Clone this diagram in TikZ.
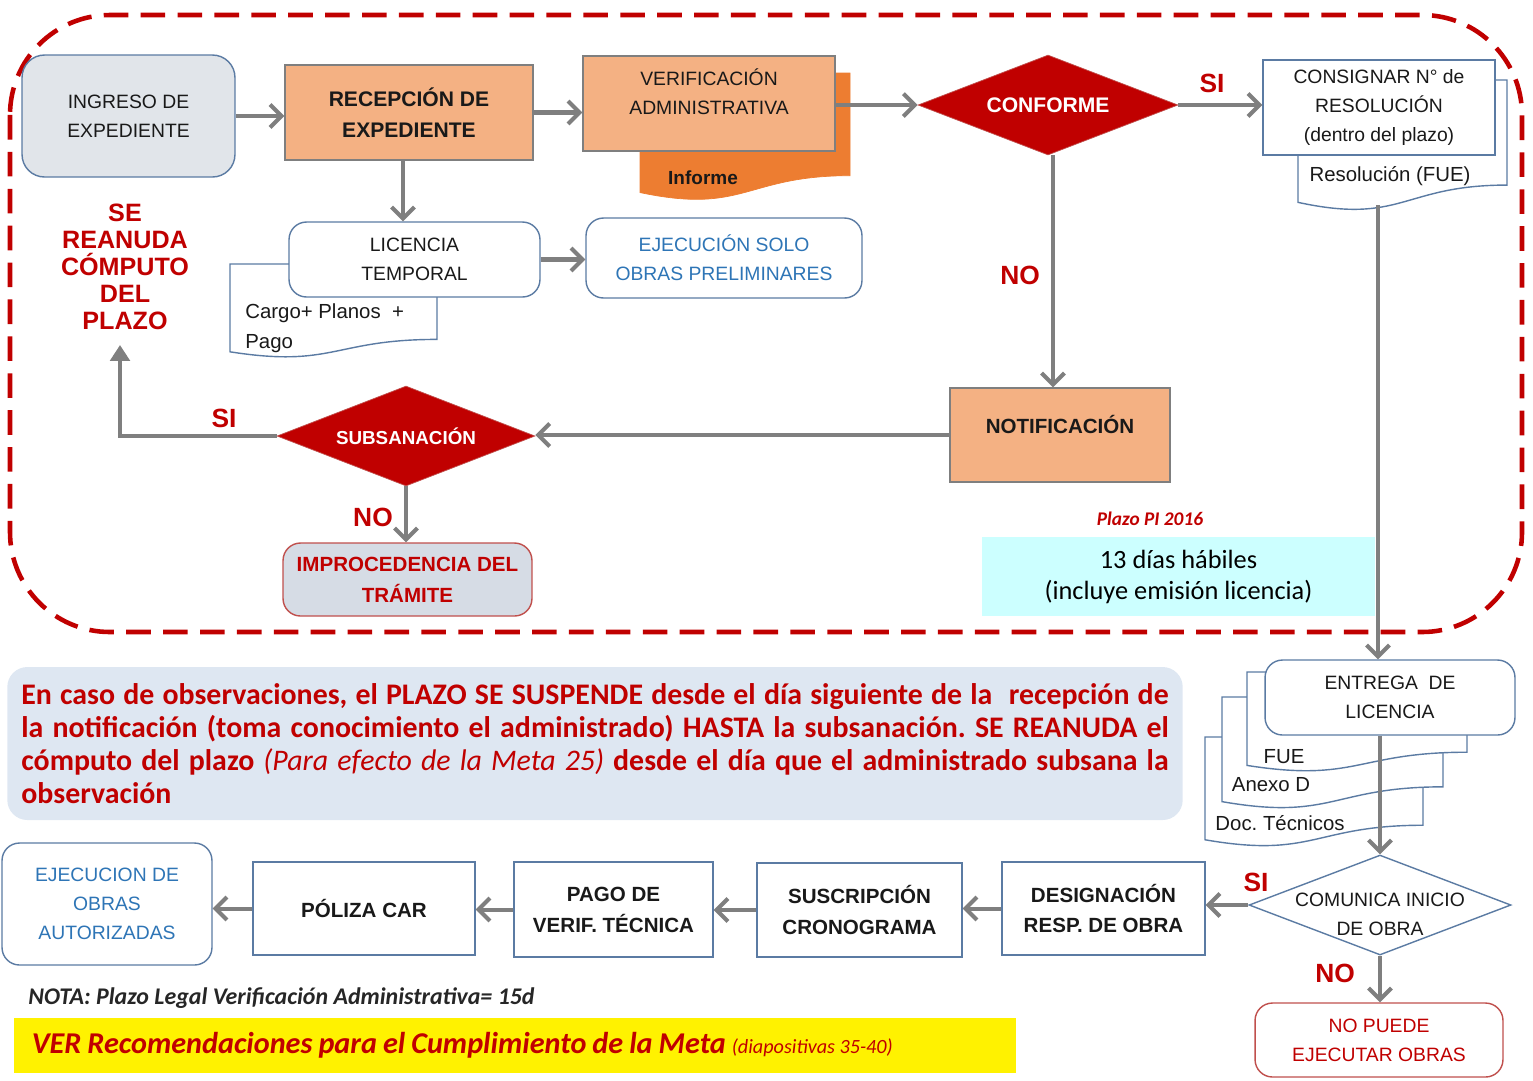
\documentclass[tikz,border=0pt]{standalone}
\usepackage{fontspec}
\setmainfont{Liberation Sans}
\newfontfamily\calfont{Carlito}
\usetikzlibrary{positioning}
\usetikzlibrary{shapes.geometric}
\usetikzlibrary{arrows.meta}
\frenchspacing

\definecolor{peach}{HTML}{F4B183}
\definecolor{dorange}{HTML}{ED7D31}
\definecolor{dred}{HTML}{C00000}
\definecolor{redb}{HTML}{C0504D}
\definecolor{agray}{HTML}{7F7F7F}
\definecolor{bgray}{HTML}{5B7BA3}
\definecolor{lgray}{HTML}{E1E5EA}
\definecolor{lgblue}{HTML}{D6DCE5}
\definecolor{lblue}{HTML}{DEE7F2}
\definecolor{lcyan}{HTML}{CCFFFF}
\definecolor{tblue}{HTML}{2E75B6}

% document symbol with a wavy lower edge
\newcommand{\docshape}[5]{%
  \draw[#5] (#1,#2) -- (#3,#2) -- (#3,{#2+0.802*(#4-#2)})
    .. controls ({(#1+#3)/2},{#2+0.802*(#4-#2)}) and ({(#1+#3)/2},{#2+1.107*(#4-#2)})
    .. (#1,{#2+0.934*(#4-#2)}) -- cycle;}

\begin{document}
\begin{tikzpicture}[x=0.02cm, y=-0.02cm,
  arr/.style={draw=agray, line width=2.3pt, -{Straight Barb[length=6.5pt,width=13pt]}},
  txt/.style={font=\fontsize{11}{16.4}\selectfont, align=center, text=black!90},
  txtb/.style={font=\bfseries\fontsize{11.7}{17.6}\selectfont, align=center, text=black!90},
  peachbox/.style={rectangle, draw=agray, line width=0.8pt, fill=peach, inner sep=0},
  wbox/.style={rectangle, draw=bgray, line width=0.8pt, fill=white, inner sep=0},
  rbox/.style={wbox, rounded corners=0.35cm},
  reddia/.style={diamond, aspect=2.6, fill=dred, draw=redb, inner sep=0, text=white,
    font=\bfseries\fontsize{12}{14}\selectfont},
  yesno/.style={text=dred, font=\bfseries\fontsize{15}{17}\selectfont, inner sep=0},
  docw/.style={draw=bgray, line width=0.8pt, fill=white},
  doctxt/.style={font=\fontsize{11.6}{17}\selectfont, text=black!90, inner sep=0},
]
  \useasboundingbox (0,0) rectangle (1533,1080);

  % dashed frame of the first stage
  \draw[dred, line width=2.6pt, dash pattern=on 14pt off 7pt, rounded corners=2cm] (10,15) rectangle (1522,632);

  % documents behind the boxes
  \docshape{640}{73}{850}{201}{draw=dorange, fill=dorange}
  \docshape{1298}{80}{1507}{211}{docw}
  \docshape{230}{264}{437}{358}{docw}
  \foreach \xa/\ya/\xb/\yb in {1205/737/1423/847, 1222/697/1443/809, 1247/672/1467/772} {
    \docshape{\xa}{\ya}{\xb}{\yb}{docw}
  }
  \node[doctxt, font=\bfseries\fontsize{10.8}{13}\selectfont] (informe) at (703,178) {Informe};
  \node[doctxt] (resol) at (1390,176) {Resolución (FUE)};
  \node[doctxt, anchor=west, align=left] (cargo) at (245,328) {Cargo+ Planos\ \ +\\Pago};
  \node[doctxt] (fue) at (1284,757) {FUE};
  \node[doctxt] (anexo) at (1271,785) {Anexo D};
  \node[doctxt] (doct) at (1280,823) {Doc. Técnicos};

  % first stage
  \node[rbox, fill=lgray, rounded corners=0.45cm, minimum width=4.26cm, minimum height=2.44cm, txt] (ingreso) at (128.5,116) {INGRESO DE\\EXPEDIENTE};
  \node[peachbox, minimum width=4.96cm, minimum height=1.9cm, txtb, font=\bfseries\fontsize{12}{17.6}\selectfont] (recep) at (409,112.5) {RECEPCIÓN DE\\EXPEDIENTE};
  \node[peachbox, minimum width=5.04cm, minimum height=1.9cm, label={[txt, yshift=0.24cm]center:VERIFICACIÓN\\ADMINISTRATIVA}] (verif) at (709,103.5) {};
  \node[reddia, minimum width=5.2cm, minimum height=2cm] (conf) at (1048,105) {CONFORME};
  \node[wbox, minimum width=4.64cm, minimum height=1.9cm, txt] (consig) at (1379,107.5) {CONSIGNAR N° de\\RESOLUCIÓN\\(dentro del plazo)};
  \node[rbox, minimum width=5.02cm, minimum height=1.5cm, txt] (lic) at (414.5,259.5) {LICENCIA\\TEMPORAL};
  \node[rbox, minimum width=5.52cm, minimum height=1.6cm, txt, text=tblue] (ejsolo) at (724,258) {EJECUCIÓN SOLO\\OBRAS PRELIMINARES};
  \node[yesno, align=center, font=\bfseries\fontsize{14.3}{15.4}\selectfont] (reanuda) at (125,267) {SE\\REANUDA\\CÓMPUTO\\DEL\\PLAZO};
  \node[peachbox, minimum width=4.4cm, minimum height=1.88cm, label={[txtb, yshift=0.22cm]center:NOTIFICACIÓN}] (notif) at (1060,435) {};
  \node[reddia, minimum width=5.16cm, minimum height=2cm, font=\bfseries\fontsize{10.7}{12}\selectfont] (subs) at (406,436) {SUBSANACIÓN};
  \node[rbox, fill=lgblue, draw=redb, minimum width=4.98cm, minimum height=1.46cm, txtb, text=dred] (improc) at (407.5,579.5) {IMPROCEDENCIA DEL\\TRÁMITE};
  \node[text=dred, inner sep=0, font=\calfont\bfseries\itshape\fontsize{11}{13}\selectfont] (plazo) at (1150,519) {Plazo PI 2016};
  \node[fill=lcyan, minimum width=7.86cm, minimum height=1.58cm, align=center, font=\calfont\fontsize{15}{17.6}\selectfont] (dias) at (1178.5,576.5) {13 días hábiles\\(incluye emisión licencia)};

  % yes / no labels
  \node[yesno] (si1) at (1212,83) {SI};
  \node[yesno] (no1) at (1020,275) {NO};
  \node[yesno] (si2) at (224,418) {SI};
  \node[yesno] (no2) at (373,517) {NO};
  \node[yesno] (si3) at (1256,882) {SI};
  \node[yesno] (no3) at (1335,973) {NO};

  % note on the suspended term
  \node[fill=lblue, rounded corners=0.4cm, minimum height=3.06cm, text width=653pt, inner xsep=8pt, align=justify, text=dred, font=\calfont\bfseries\fontsize{17}{18.7}\selectfont] (obs) at (595,743.5) {En caso de observaciones, el PLAZO SE SUSPENDE desde el día siguiente de la\ \ recepción de\linebreak la notificación (toma conocimiento el administrado) HASTA la subsanación. SE REANUDA el\linebreak cómputo del plazo {\mdseries\itshape (Para efecto de la Meta 25)} desde el día que el administrado subsana la\linebreak observación};

  % second stage
  \node[rbox, minimum width=5cm, minimum height=1.5cm, txt] (entrega) at (1390,697.5) {ENTREGA\ \ DE\\LICENCIA};
  \node[diamond, aspect=2.6, draw=bgray, line width=0.8pt, fill=white, minimum width=5.24cm, minimum height=2cm, inner sep=0, label={[txt, yshift=-0.18cm]center:COMUNICA INICIO\\DE OBRA}] (com) at (1380,905) {};
  \node[rbox, draw=redb, minimum width=4.96cm, minimum height=1.48cm, txt, text=dred] (nopuede) at (1379,1040) {NO PUEDE\\EJECUTAR OBRAS};
  \node[wbox, minimum width=4.06cm, minimum height=1.86cm, txtb] (design) at (1103.5,908.5) {DESIGNACIÓN\\RESP. DE OBRA};
  \node[wbox, minimum width=4.1cm, minimum height=1.88cm, txtb] (suscr) at (859.5,910) {SUSCRIPCIÓN\\CRONOGRAMA};
  \node[wbox, minimum width=3.98cm, minimum height=1.9cm, txtb] (pago) at (613.5,909.5) {PAGO DE\\VERIF. TÉCNICA};
  \node[wbox, minimum width=4.44cm, minimum height=1.86cm, txtb] (poliza) at (364,908.5) {PÓLIZA CAR};
  \node[rbox, minimum width=4.2cm, minimum height=2.44cm, txt, text=tblue] (ejobras) at (107,904) {EJECUCION DE\\OBRAS\\AUTORIZADAS};

  \node[anchor=west, inner sep=0, text=black!85, font=\calfont\bfseries\itshape\fontsize{13.6}{15}\selectfont] (nota) at (28,998) {NOTA: Plazo Legal Verificación Administrativa= 15d};
  \node[fill=yellow, minimum height=1.1cm, text width=550pt, inner xsep=10pt, align=left, text=dred, font=\calfont\bfseries\itshape\fontsize{17.2}{19}\selectfont] (ver) at (515,1045.5) {\spaceskip=0.2em VER Recomendaciones para el Cumplimiento de la Meta {\mdseries\fontsize{11.5}{13}\selectfont\spaceskip=0.22em (diapositivas 35-40)}};

  % connectors
  \draw[arr] (ingreso.east) -- (ingreso.east -| recep.west);
  \draw[arr] (recep.east) -- (recep.east -| verif.west);
  \draw[arr] (verif.east |- conf.west) -- (conf.west);
  \draw[arr] (conf.east) -- (conf.east -| consig.west);
  \draw[arr] ([xshift=0.1cm]conf.south) -- ([xshift=0.1cm]conf.south |- notif.north);
  \draw[arr] ([xshift=-0.12cm]recep.south) -- ([xshift=-0.12cm]recep.south |- lic.north);
  \draw[arr] (lic.east) -- (lic.east -| ejsolo.west);
  \draw[arr] (notif.west) -- (notif.west -| subs.east);
  \coordinate (reanudaA) at (120,345);
  \draw[agray, line width=2.3pt, -{Triangle[length=9pt,width=11pt]}] (subs.west) -| (reanudaA);
  \draw[arr] (subs.south) -- (subs.south |- improc.north);
  \coordinate (resB) at (1378,205);
  \draw[arr] (resB) -- (resB |- entrega.north);
  \draw[arr] (com.north |- entrega.south) -- (com.north);
  \draw[arr] (com.west) -- (com.west -| design.east);
  \draw[arr] (com.south) -- (com.south |- nopuede.north);
  \foreach \a/\b in {design/suscr, suscr/pago, pago/poliza, poliza/ejobras}
    \draw[arr] (\a.west) -- (\a.west -| \b.east);
\end{tikzpicture}
\end{document}
